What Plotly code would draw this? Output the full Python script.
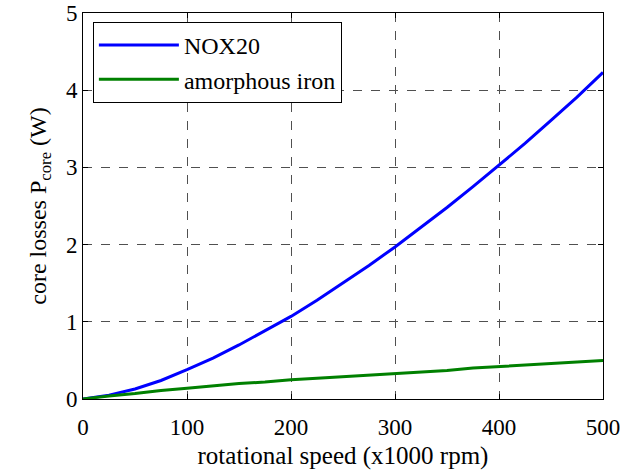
import plotly.graph_objects as go

speed = [0, 25, 50, 75, 100, 125, 150, 175, 200, 225, 250, 275, 300,
         325, 350, 375, 400, 425, 450, 475, 500]
nox20 = [0, 0.05, 0.13, 0.24, 0.38, 0.53, 0.70, 0.88, 1.07, 1.28, 1.50,
         1.73, 1.97, 2.22, 2.48, 2.75, 3.03, 3.31, 3.61, 3.91, 4.23]
amorphous = [0, 0.04, 0.07, 0.11, 0.14, 0.17, 0.20, 0.22, 0.25, 0.27, 0.29,
             0.31, 0.33, 0.35, 0.37, 0.40, 0.42, 0.44, 0.46, 0.48, 0.50]
x_ticks = [0, 100, 200, 300, 400, 500]
y_ticks = [0, 1, 2, 3, 4, 5]

font = "Liberation Serif"

fig = go.Figure()
fig.add_trace(go.Scatter(x=speed, y=nox20, mode="lines", name="NOX20",
                         legendgroup="g",
                         line=dict(color="#0000ff", width=3)))
fig.add_trace(go.Scatter(x=speed, y=amorphous, mode="lines", name="amorphous iron",
                         legendgroup="g",
                         line=dict(color="#008000", width=3)))

axis_common = dict(
    showline=True, linecolor="black", linewidth=1, mirror="ticks",
    ticks="inside", ticklen=5, tickcolor="black",
    showgrid=True, gridcolor="#505050", griddash="dash", gridwidth=1,
    zeroline=False, automargin=False, ticklabeloverflow="allow",
    tickfont=dict(family=font, size=23, color="black"),
)

fig.update_layout(
    width=640, height=474,
    margin=dict(l=83, r=37, t=13, b=75),
    paper_bgcolor="white", plot_bgcolor="white",
    font=dict(family=font, color="black"),
    xaxis=dict(range=[0, 500], tickvals=x_ticks, ticklabelstandoff=7,
               title=dict(text="rotational speed (x1000 rpm)",
                          font=dict(family=font, size=25), standoff=7),
               **axis_common),
    yaxis=dict(range=[0, 5], tickvals=y_ticks,
               title=dict(text="core losses P<sub>core</sub> (W)",
                          font=dict(family=font, size=24), standoff=12),
               **axis_common),
    legend=dict(x=0.019, y=0.977, xanchor="left", yanchor="top",
                bgcolor="white", bordercolor="black", borderwidth=1,
                font=dict(family=font, size=24), itemwidth=80,
                tracegroupgap=0),
    showlegend=True,
)

fig.write_html("out.html",
               config={"displayModeBar": False},
               post_script="document.body.style.margin='0';")
